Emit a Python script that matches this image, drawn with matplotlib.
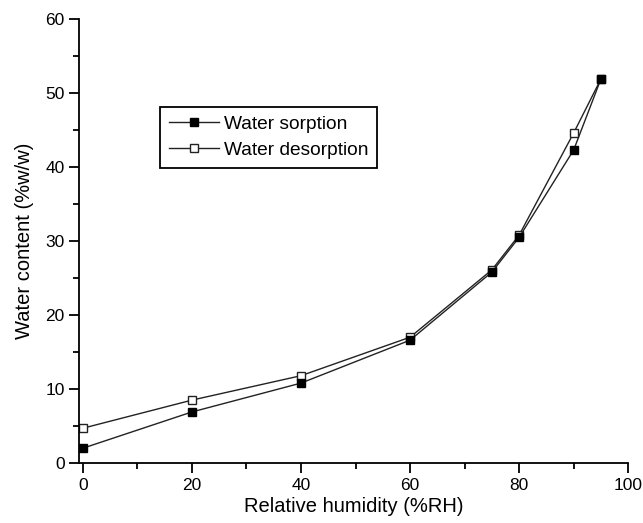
import matplotlib
matplotlib.use("Agg")
import matplotlib.pyplot as plt
from matplotlib.ticker import MultipleLocator

plt.rcParams['font.family'] = ['Liberation Sans', 'DejaVu Sans']

rh = [0, 20, 40, 60, 75, 80, 90, 95]
sorption = [2.0, 6.9, 10.8, 16.6, 25.8, 30.5, 42.3, 51.9]
desorption = [4.7, 8.5, 11.8, 17.0, 26.1, 30.8, 44.6, 51.9]

fig = plt.figure(figsize=(6.43, 5.23), dpi=100)
ax = fig.add_axes([0.123, 0.1147, 0.854, 0.849])

ax.plot(rh, desorption, '-', color='#222222', lw=1.0, marker='s', ms=6.2,
        mfc='white', mec='#222222', mew=1.0, label='Water desorption', zorder=2)
ax.plot(rh, sorption, '-', color='#222222', lw=1.0, marker='s', ms=6.2,
        mfc='black', mec='black', label='Water sorption', zorder=3)

ax.set_xlim(-0.7, 100)
ax.set_ylim(0, 60)
ax.xaxis.set_major_locator(MultipleLocator(20))
ax.xaxis.set_minor_locator(MultipleLocator(10))
ax.yaxis.set_major_locator(MultipleLocator(10))
ax.yaxis.set_minor_locator(MultipleLocator(5))
for s in ['top', 'right']:
    ax.spines[s].set_visible(False)
for s in ['left', 'bottom']:
    ax.spines[s].set_linewidth(1.3)
ax.tick_params(which='major', direction='out', length=7, width=1.3, labelsize=12.5)
ax.tick_params(which='minor', direction='out', length=4, width=1.3)

ax.set_xlabel('Relative humidity (%RH)', fontsize=14.5, labelpad=3)
ax.set_ylabel('Water content (%w/w)', fontsize=14.5, labelpad=8)

handles, labels = ax.get_legend_handles_labels()
leg = ax.legend(handles[::-1], labels[::-1], loc='upper left',
                bbox_to_anchor=(0.1475, 0.802), borderaxespad=0,
                numpoints=1, handlelength=2.6, fontsize=13.8, fancybox=False,
                edgecolor='black', framealpha=1, borderpad=0.45,
                labelspacing=0.45, handletextpad=0.3)
leg.get_frame().set_linewidth(1.3)

fig.savefig('out.png', dpi=100)
